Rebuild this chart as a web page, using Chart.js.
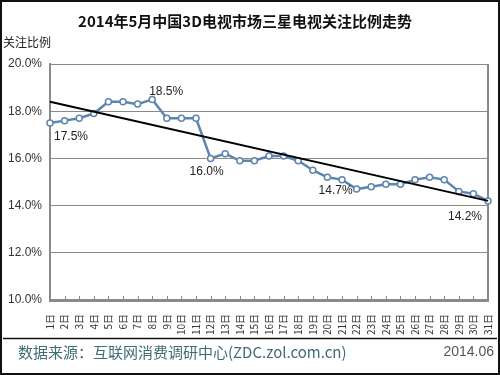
<!DOCTYPE html>
<html>
<head>
<meta charset="utf-8">
<script src="https://cdn.jsdelivr.net/npm/chart.js@4.4.1/dist/chart.umd.min.js"></script>
<style>
  html, body { margin: 0; padding: 0; background: #fff; }
  #wrap { width: 500px; height: 375px; position: relative; }
</style>
</head>
<body>
<div id="wrap"><canvas id="c" width="500" height="375"></canvas></div>
<script>
const days = ["1日","2日","3日","4日","5日","6日","7日","8日","9日","10日","11日","12日","13日","14日","15日","16日",
  "17日","18日","19日","20日","21日","22日","23日","24日","25日","26日","27日","28日","29日","30日","31日"];
const share = [17.5, 17.6, 17.7, 17.9, 18.4, 18.4, 18.3, 18.5, 17.7, 17.7, 17.7, 16.0, 16.2, 15.9, 15.9, 16.1,
  16.1, 15.9, 15.5, 15.2, 15.1, 14.7, 14.8, 14.9, 14.9, 15.1, 15.2, 15.1, 14.6, 14.5, 14.2];
// trend line end points
const trendStart = 18.4;
const trendEnd = 14.2;
const yTicks = [10, 12, 14, 16, 18, 20];
const marked = [0, 7, 11, 21, 30]; // days with a value label

const trend = days.map((d, i) => (i === 0 ? trendStart : i === days.length - 1 ? trendEnd : null));

const labelFont = "12px 'Liberation Sans', sans-serif";

// title, footer, frame and value labels
const decor = {
  id: "decor",
  beforeDraw(chart) {
    const ctx = chart.ctx;
    ctx.save();
    ctx.fillStyle = "#fff";
    ctx.fillRect(0, 0, 500, 375);
    ctx.restore();
  },
  beforeDatasetsDraw(chart) {
    const ctx = chart.ctx;
    const x = chart.scales.x;
    const area = chart.chartArea;
    ctx.save();
    // right edge of plot
    ctx.strokeStyle = "#8a8a8a";
    ctx.lineWidth = 2;
    ctx.beginPath();
    ctx.moveTo(area.right, area.top);
    ctx.lineTo(area.right, area.bottom);
    ctx.stroke();
    // small ticks pointing up from the x axis
    ctx.lineWidth = 1;
    ctx.beginPath();
    days.forEach((d, i) => {
      const px = Math.round(x.getPixelForValue(i)) + 0.5;
      ctx.moveTo(px, area.bottom);
      ctx.lineTo(px, area.bottom - 4);
    });
    ctx.stroke();
    ctx.restore();
  },
  afterDatasetsDraw(chart) {
    const ctx = chart.ctx;
    const x = chart.scales.x, y = chart.scales.y;
    ctx.save();
    ctx.fillStyle = "#222";
    ctx.font = labelFont;
    ctx.textBaseline = "middle";
    marked.forEach(i => {
      const px = x.getPixelForValue(i);
      const py = y.getPixelForValue(share[i]);
      const txt = share[i].toFixed(1) + "%";
      if (i === 0) { ctx.textAlign = "left"; ctx.fillText(txt, px + 4, py + 14); }
      else if (i === 7) { ctx.textAlign = "center"; ctx.fillText(txt, px + 14, py - 8); }
      else if (i === 11) { ctx.textAlign = "center"; ctx.fillText(txt, px - 4, py + 13); }
      else if (i === 21) { ctx.textAlign = "right"; ctx.fillText(txt, px - 4, py + 2); }
      else { ctx.textAlign = "right"; ctx.fillText(txt, px - 6, py + 16); }
    });
    ctx.restore();
  },
  afterDraw(chart) {
    const ctx = chart.ctx;
    ctx.save();
    ctx.fillStyle = "#111";
    ctx.textBaseline = "middle";
    ctx.textAlign = "center";
    ctx.font = "bold 15px 'Noto Sans CJK SC', sans-serif";
    ctx.fillText("2014年5月中国3D电视市场三星电视关注比例走势", 245, 21);

    ctx.textAlign = "left";
    ctx.font = "12px 'Noto Sans CJK SC', sans-serif";
    ctx.fillStyle = "#222";
    ctx.fillText("关注比例", 3, 42);

    ctx.strokeStyle = "#111";
    ctx.lineWidth = 1.5;
    ctx.beginPath();
    ctx.moveTo(3, 338.5);
    ctx.lineTo(497, 338.5);
    ctx.stroke();

    ctx.font = "15px 'Noto Sans CJK SC', sans-serif";
    ctx.fillStyle = "#3f6b78";
    ctx.fillText("数据来源：互联网消费调研中心(ZDC.zol.com.cn)", 18, 352);
    ctx.textAlign = "right";
    ctx.fillStyle = "#555";
    ctx.font = "14px 'Liberation Sans', sans-serif";
    ctx.fillText("2014.06", 494, 352);

    ctx.strokeStyle = "#111";
    ctx.lineWidth = 2;
    ctx.strokeRect(1, 1, 498, 373);
    ctx.restore();
  }
};

new Chart("c", {
  type: "line",
  data: {
    labels: days,
    datasets: [
      {
        data: share,
        borderColor: "#5f84ad",
        borderWidth: 2.5,
        pointRadius: 3,
        pointBackgroundColor: "#fff",
        pointBorderColor: "#5f84ad",
        pointBorderWidth: 1.5,
        tension: 0,
        order: 2,
      },
      {
        data: trend,
        borderColor: "#000",
        borderWidth: 2,
        pointRadius: 0,
        spanGaps: true,
        order: 1,
      },
    ],
  },
  options: {
    responsive: false,
    animation: false,
    layout: { padding: { top: 64, right: 12, left: 0, bottom: 0 } },
    plugins: {
      legend: { display: false },
      tooltip: { enabled: false },
    },
    scales: {
      x: {
        offset: false,
        afterFit: s => { s.height = 75; s.paddingLeft = 0; s.paddingRight = 0; },
        grid: { display: false },
        border: { color: "#8a8a8a", width: 3 },
        ticks: {
          autoSkip: false,
          minRotation: 90,
          maxRotation: 90,
          color: "#333",
          font: { size: 10, family: "'Noto Sans CJK SC', sans-serif" },
          padding: 6,
        },
      },
      y: {
        min: 10,
        max: 20,
        afterFit: s => { s.width = 50; },
        afterBuildTicks: s => { s.ticks = yTicks.map(v => ({ value: v })); },
        grid: { color: "#8a8a8a", drawTicks: false },
        border: { color: "#8a8a8a", width: 2 },
        ticks: {
          color: "#333",
          padding: 8,
          font: { size: 12, family: "'Liberation Sans', sans-serif" },
          callback: v => v.toFixed(1) + "%",
        },
      },
    },
  },
  plugins: [decor],
});
</script>
</body>
</html>
